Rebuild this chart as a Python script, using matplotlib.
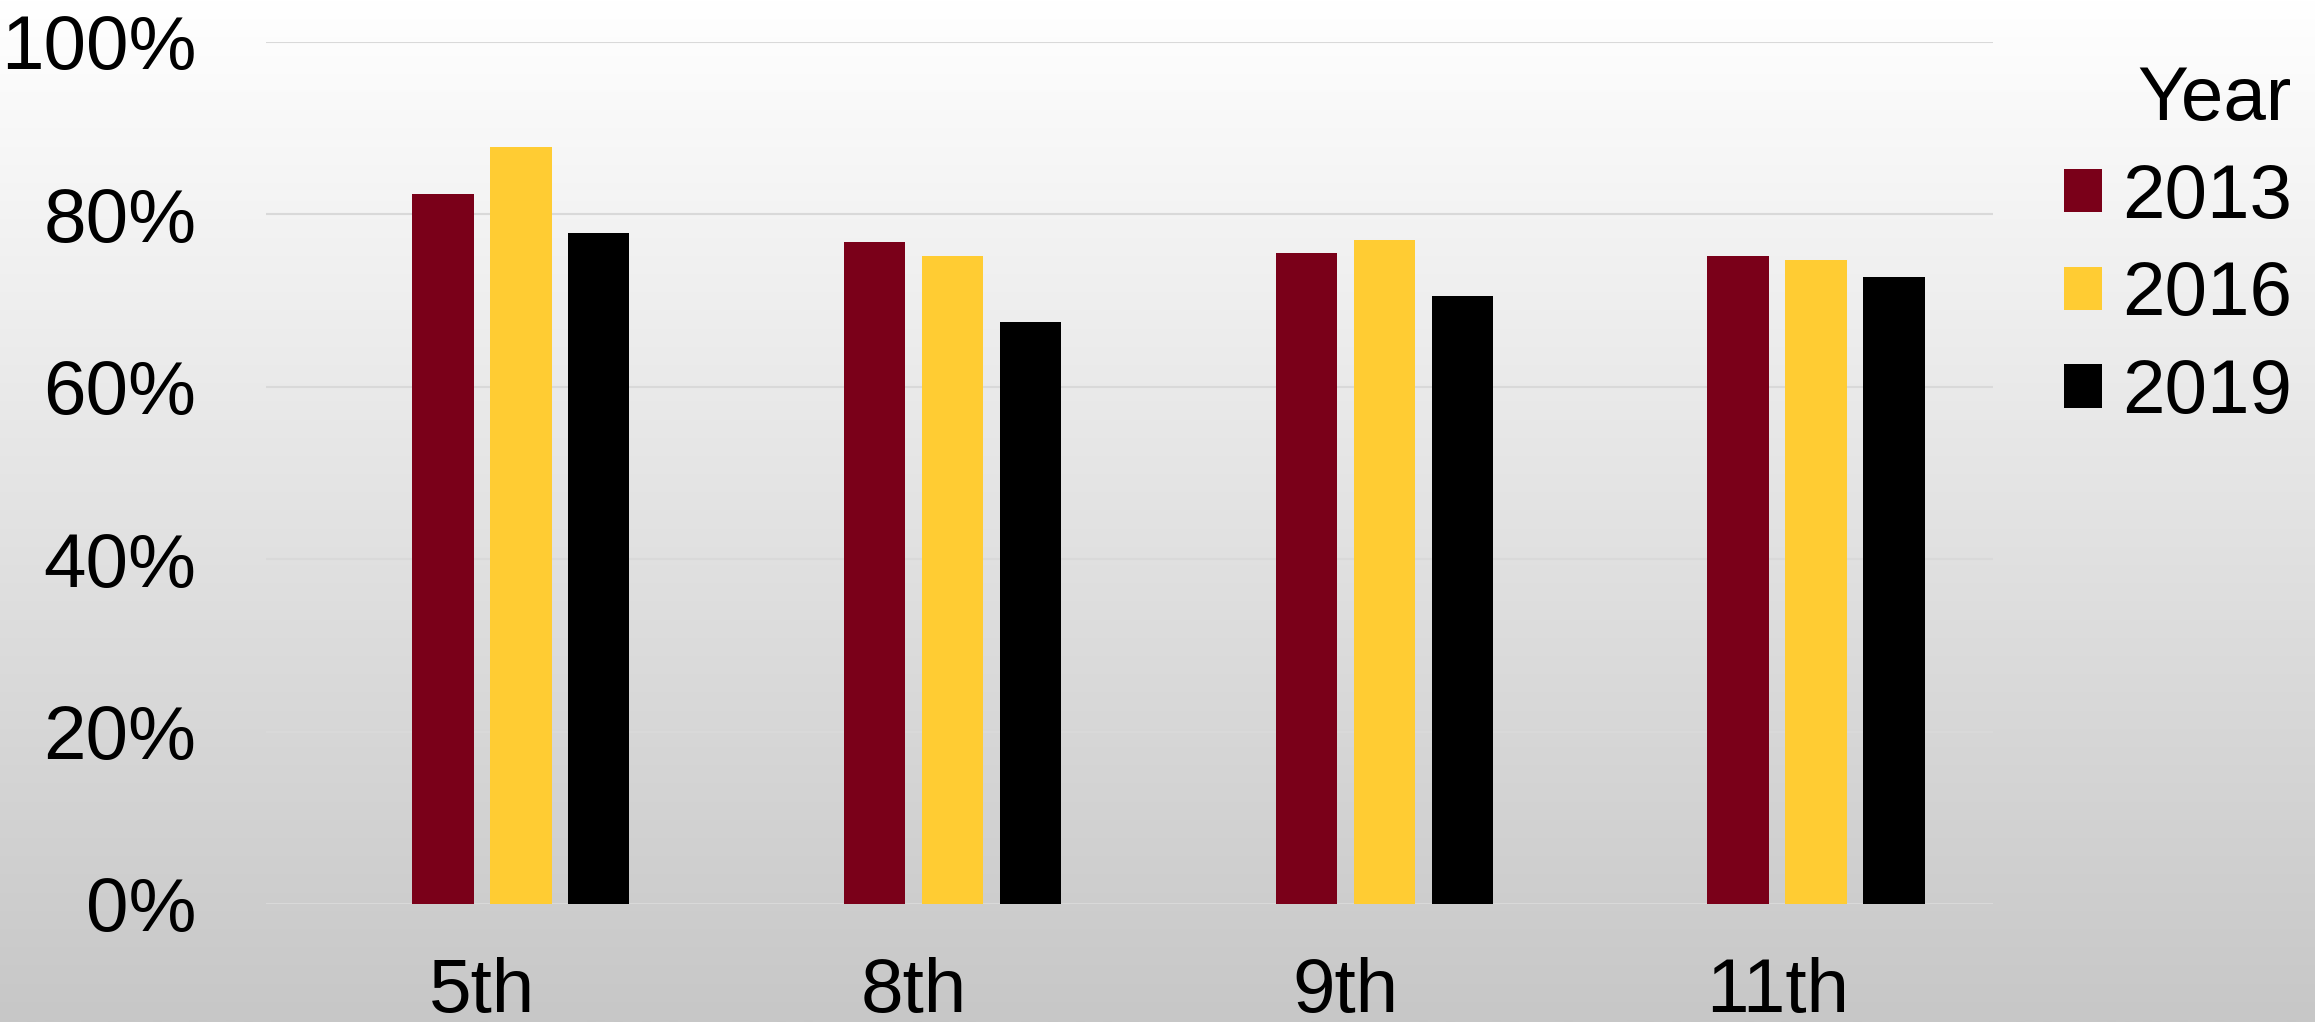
import numpy as np
import matplotlib
matplotlib.use("Agg")
import matplotlib.pyplot as plt
from matplotlib.patches import Patch
from matplotlib.ticker import PercentFormatter

plt.rcParams['font.family'] = ['Liberation Sans', 'DejaVu Sans']

# Share of students by grade and survey year
grades = ["5th", "8th", "9th", "11th"]
years = ["2013", "2016", "2019"]
values_2013 = [0.823, 0.768, 0.755, 0.752]
values_2016 = [0.878, 0.751, 0.770, 0.747]
values_2019 = [0.778, 0.675, 0.705, 0.727]
series = [values_2013, values_2016, values_2019]
colors = ["#7a0019", "#ffcc33", "#000000"]
yticks = [0, 0.2, 0.4, 0.6, 0.8, 1.0]

W, H, DPI = 2315, 1022, 100
fig = plt.figure(figsize=(W / DPI, H / DPI), dpi=DPI)

# vertical white-to-grey background
bg = fig.add_axes([0, 0, 1, 1], zorder=-10)
grad = np.linspace(255, 199, 256)[:, None] / 255.0
bg.imshow(np.dstack([grad, grad, grad]), aspect="auto", extent=[0, 1, 0, 1],
          interpolation="bilinear")
bg.set_axis_off()

ax = fig.add_axes([266 / W, 1 - 904 / H, (1993 - 266) / W, (904 - 41.7) / H])
ax.set_facecolor("none")

x = np.arange(len(grades))
slot = 0.1806
width = 0.142
offsets = [-0.5 * slot, 0.5 * slot, 1.5 * slot]
for vals, col, off, yr in zip(series, colors, offsets, years):
    ax.bar(x + off, vals, width=width, color=col, zorder=3, label=yr)

ax.set_xlim(-0.5, len(grades) - 0.5)
ax.set_ylim(0, 1.0)
ax.set_yticks(yticks)
ax.yaxis.set_major_formatter(PercentFormatter(1.0, decimals=0))
ax.set_xticks(x)
ax.set_xticklabels(grades)
ax.grid(axis="y", color="#d9d9d9", linewidth=1.5, zorder=0)
ax.set_axisbelow(True)
for s in ax.spines.values():
    s.set_visible(False)
ax.tick_params(axis="both", length=0, labelsize=55, colors="black")
ax.tick_params(axis="y", pad=50)
ax.tick_params(axis="x", pad=38)

handles = [Patch(facecolor=c, edgecolor="none") for c in colors]
leg = fig.legend(handles, years, title="Year", loc="upper left",
                 bbox_to_anchor=(2064 / W, 1 - 65 / H), frameon=False,
                 fontsize=55, title_fontsize=55, handlelength=0.5,
                 handleheight=0.5, handletextpad=0.26, borderpad=0,
                 borderaxespad=0, labelspacing=0.35, alignment="right")

fig.savefig("out.png", dpi=DPI)
